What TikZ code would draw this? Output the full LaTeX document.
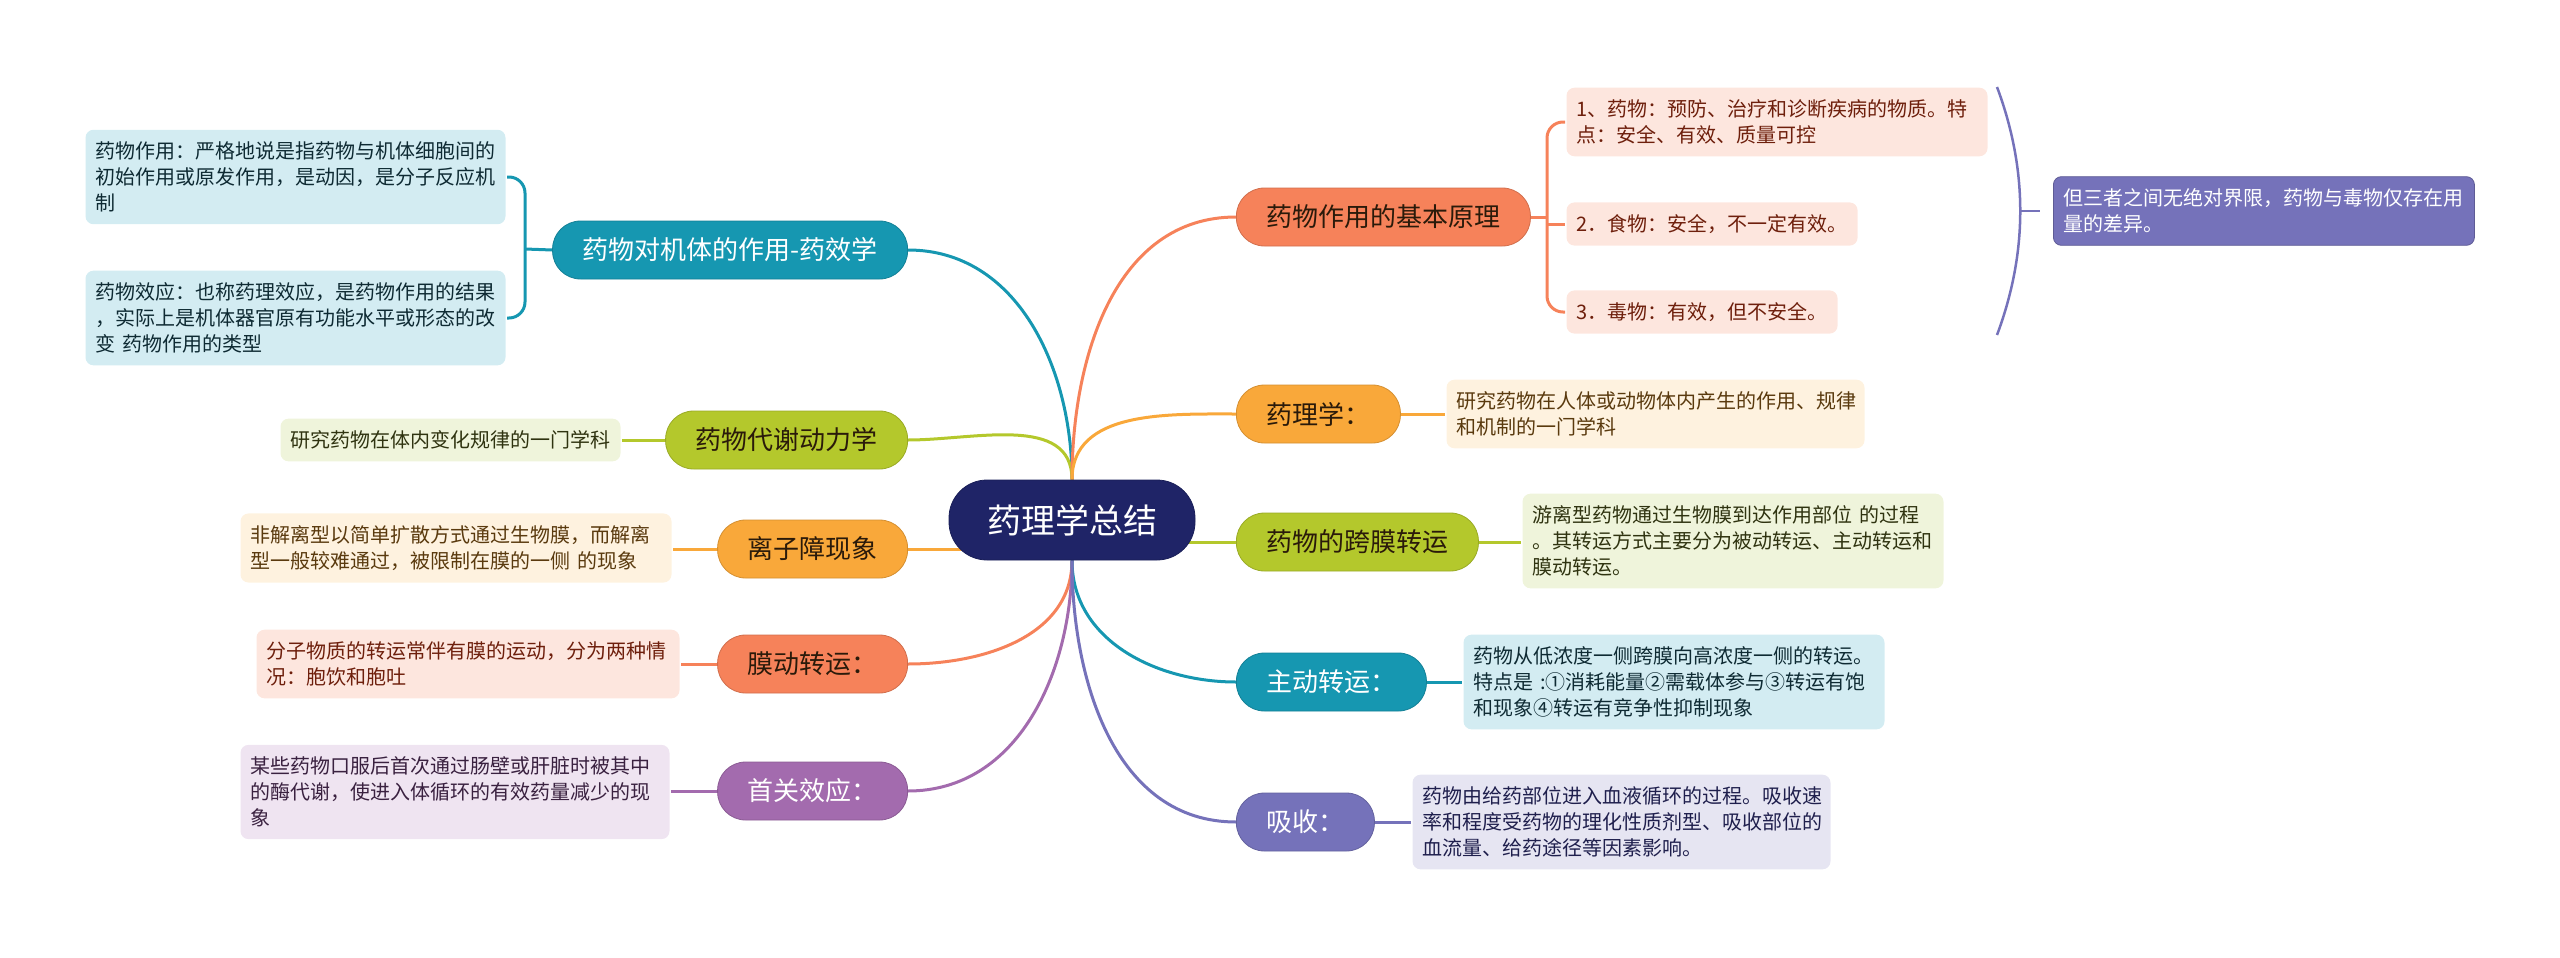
\documentclass[tikz,border=0pt]{standalone}
\usepackage{fontspec}
\setmainfont{Noto Sans CJK SC}
\usetikzlibrary{backgrounds, calc}
\definecolor{cnavy}{HTML}{1F2467}
\definecolor{ccoral}{HTML}{F6825A}
\definecolor{corange}{HTML}{F9A83A}
\definecolor{cgreen}{HTML}{B4C82C}
\definecolor{cteal}{HTML}{1697B1}
\definecolor{cviolet}{HTML}{7572BA}
\definecolor{cplum}{HTML}{A36BAE}
% pale fills of the leaves
\definecolor{pcoral}{HTML}{FDE6DE}
\definecolor{porange}{HTML}{FEF2DF}
\definecolor{pgreen}{HTML}{EFF4DB}
\definecolor{pteal}{HTML}{D3ECF2}
\definecolor{pviolet}{HTML}{E6E5F2}
\definecolor{pplum}{HTML}{EFE4F1}
% text colours
\definecolor{tdark}{HTML}{2A1A0A}
\definecolor{tcoral}{HTML}{6E1F0C}
\definecolor{torange}{HTML}{5A3A0E}
\definecolor{tgreen}{HTML}{2F3310}
\definecolor{tteal}{HTML}{0E2A33}
\definecolor{tviolet}{HTML}{1F1F4D}
\definecolor{tplum}{HTML}{3A2140}
\tikzset{
  every picture/.style={x=1pt, y=-1pt, line width=3pt},
  topic/.style={draw=#1!85!black, line width=0.8pt, fill=#1, text=tdark, rounded corners=28pt, minimum height=58pt, inner xsep=30pt, font=\fontsize{26}{30}\selectfont},
  leaf/.style 2 args={fill=#1, text=#2, rounded corners=8pt, inner xsep=10pt, inner ysep=12pt, align=left, font=\fontsize{20}{26}\selectfont},
  link/.style={draw=#1, line width=3pt},
}

\begin{document}
\begin{tikzpicture}
  \useasboundingbox (0,0) rectangle (2560,958);
  % root
  \node[topic=cnavy, text=white, minimum height=80pt, rounded corners=38pt, inner xsep=38pt, font=\fontsize{34}{40}\selectfont] (root) at (1072,520) {药理学总结};
  % right topics
  \node[topic=ccoral, anchor=west] (basic) at (1236,217) {药物作用的基本原理};
  \node[topic=corange, anchor=west] (pharm) at (1236,414) {药理学：};
  \node[topic=cgreen, anchor=west] (trans) at (1236,542) {药物的跨膜转运};
  \node[topic=cteal, text=white, anchor=west] (active) at (1236,682) {主动转运：};
  \node[topic=cviolet, text=white, anchor=west] (absorb) at (1236,822) {吸收：};
  % left topics
  \node[topic=cteal, text=white, anchor=east] (effect) at (908,250) {药物对机体的作用-药效学};
  \node[topic=cgreen, anchor=east] (kinet) at (908,440) {药物代谢动力学};
  \node[topic=corange, anchor=east] (ion) at (908,549) {离子障现象};
  \node[topic=ccoral, anchor=east] (endo) at (908,664) {膜动转运：};
  \node[topic=cplum, text=white, anchor=east] (first) at (908,791) {首关效应：};

  % right leaves
  \node[leaf={pcoral}{tcoral}, text width=401pt, anchor=west] (drug) at (1565,122) {1、药物：预防、治疗和诊断疾病的物质。特\\点：安全、有效、质量可控};
  \node[leaf={pcoral}{tcoral}, anchor=west] (food) at (1565,224) {2．食物：安全，不一定有效。};
  \node[leaf={pcoral}{tcoral}, anchor=west] (poison) at (1565,312) {3．毒物：有效，但不安全。};
  \node[leaf={cviolet}{white}, draw=cviolet!80!black, line width=0.8pt, text width=401pt, anchor=west] (sum) at (2053,211) {但三者之间无绝对界限，药物与毒物仅存在用\\量的差异。};
  \node[leaf={porange}{torange}, text width=398pt, anchor=west] (pharmleaf) at (1445,414) {研究药物在人体或动物体内产生的作用、规律\\和机制的一门学科};
  \node[leaf={pgreen}{tgreen}, text width=401pt, anchor=west] (transleaf) at (1521,541) {游离型药物通过生物膜到达作用部位 的过程\\。其转运方式主要分为被动转运、主动转运和\\膜动转运。};
  \node[leaf={pteal}{tteal}, text width=401pt, anchor=west] (activeleaf) at (1462,682) {药物从低浓度一侧跨膜向高浓度一侧的转运。\\特点是 :①消耗能量②需载体参与③转运有饱\\和现象④转运有竞争性抑制现象};
  \node[leaf={pviolet}{tviolet}, text width=398pt, anchor=west] (absorbleaf) at (1411,822) {药物由给药部位进入血液循环的过程。吸收速\\率和程度受药物的理化性质剂型、吸收部位的\\血流量、给药途径等因素影响。};

  % left leaves
  \node[leaf={pteal}{tteal}, text width=400pt, anchor=east] (act) at (507,177) {药物作用：严格地说是指药物与机体细胞间的\\初始作用或原发作用，是动因，是分子反应机\\制};
  \node[leaf={pteal}{tteal}, text width=400pt, anchor=east] (resp) at (507,318) {药物效应：也称药理效应，是药物作用的结果\\，实际上是机体器官原有功能水平或形态的改\\变 药物作用的类型};
  \node[leaf={pgreen}{tgreen}, anchor=east] (kinetleaf) at (622,440) {研究药物在体内变化规律的一门学科};
  \node[leaf={porange}{torange}, text width=411pt, anchor=east] (ionleaf) at (673,548) {非解离型以简单扩散方式通过生物膜，而解离\\型一般较难通过，被限制在膜的一侧 的现象};
  \node[leaf={pcoral}{tcoral}, text width=403pt, anchor=east] (endoleaf) at (681,664) {分子物质的转运常伴有膜的运动，分为两种情\\况：胞饮和胞吐};
  \node[leaf={pplum}{tplum}, text width=409pt, anchor=east] (firstleaf) at (671,792) {某些药物口服后首次通过肠壁或肝脏时被其中\\的酶代谢，使进入体循环的有效药量减少的现\\象};

  % root to topics
  \begin{scope}[on background layer]
    \draw[link=cteal] (root.north) to[out=90, in=0] (effect.east);
    \draw[link=cgreen] (root.north) to[out=90, in=0] (kinet.east);
    \draw[link=corange] (ion.east) -- (root.center |- ion.east);
    \draw[link=ccoral] (root.south) to[out=-90, in=0] (endo.east);
    \draw[link=cplum] (root.south) to[out=-90, in=0] (first.east);
    \draw[link=ccoral] (root.north) to[out=90, in=180] (basic.west);
    \draw[link=corange] (root.north) to[out=90, in=180] (pharm.west);
    \draw[link=cgreen] (trans.west) -- (root.center |- trans.west);
    \draw[link=cteal] (root.south) to[out=-90, in=180] (active.west);
    \draw[link=cviolet] (root.south) to[out=-90, in=180] (absorb.west);
  \end{scope}

  % topics to leaves
  \coordinate (basicbr) at (1547,217);
  \draw[link=ccoral] (basic.east) -- (basicbr);
  \draw[link=ccoral, rounded corners=16pt] (drug.west) -| (basicbr) |- (poison.west);
  \draw[link=ccoral] (basicbr |- food.west) -- (food.west);
  \coordinate (sumtop) at (1997,87);
  \coordinate (sumbot) at (1997,335);
  \coordinate (summid) at (2020,211);
  \draw[link=cviolet, line width=2.5pt] (sumtop) .. controls (2028,170) and (2028,252) .. (sumbot);
  \draw[link=cviolet, line width=2.5pt] (summid) -- ([xshift=-13pt]sum.west);
  \draw[link=corange] (pharm.east) -- (pharmleaf.west);
  \draw[link=cgreen] (trans.east) -- (transleaf.west |- trans.east);
  \draw[link=cteal] (active.east) -- (activeleaf.west);
  \draw[link=cviolet] (absorb.east) -- (absorbleaf.west);
  \coordinate (effbr) at (525,249);
  \draw[link=cteal] (effect.west) -- (effbr);
  \draw[link=cteal, rounded corners=16pt] (act.east) -| (effbr) |- (resp.east);
  \draw[link=cgreen] (kinet.west) -- (kinetleaf.east);
  \draw[link=corange] (ion.west) -- (ionleaf.east |- ion.west);
  \draw[link=ccoral] (endo.west) -- (endoleaf.east);
  \draw[link=cplum] (first.west) -- (firstleaf.east |- first.west);
\end{tikzpicture}
\end{document}
